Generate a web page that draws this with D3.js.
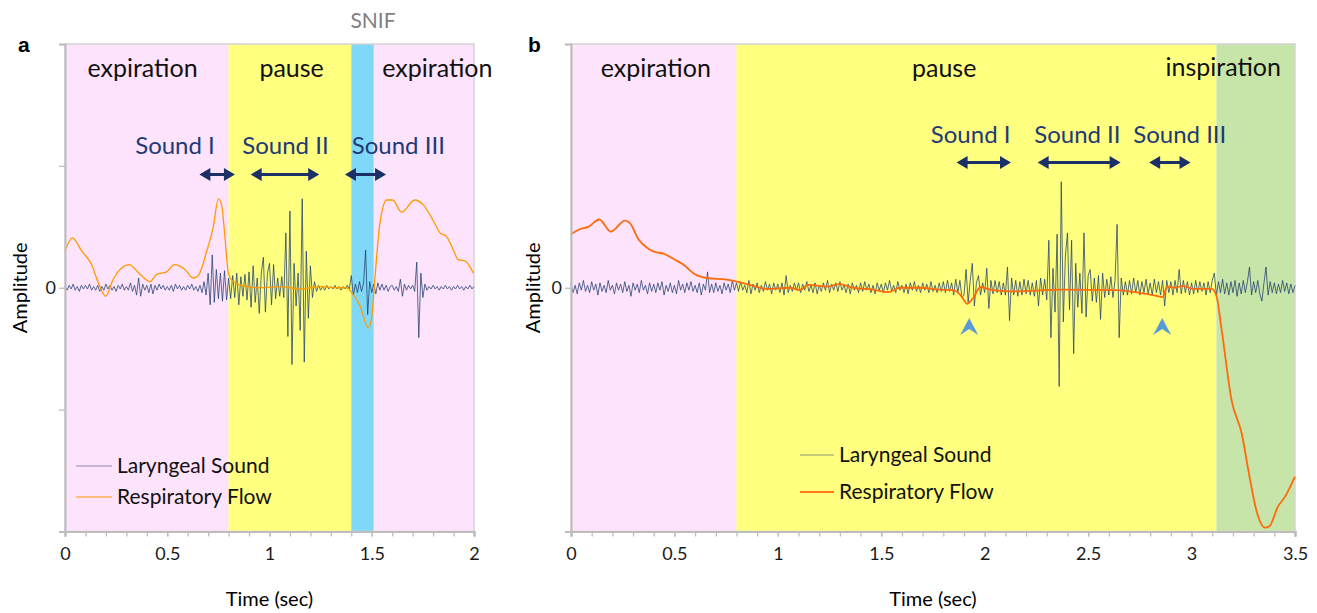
<!DOCTYPE html>
<html>
<head>
<meta charset="utf-8">
<script src="https://cdn.jsdelivr.net/npm/d3@7"></script>
<style>
    body { margin: 0; background: #fff; }
    text { font-family: Lato, "Open Sans", sans-serif; }
</style>
</head>
<body>
<svg id="chart" width="1317" height="613"></svg>
<script>
// ---------- panel a data ----------
let timeTicksA = [0, 0.5, 1, 1.5, 2]
let ampTicksA = [-200, -100, 0, 100, 200]
let phaseNamesA = ["expiration", "pause", "SNIF", "expiration"]
let phaseStartA = [0, 0.8, 1.4, 1.51]
let phaseEndA = [0.8, 1.4, 1.51, 2]
let soundNamesA = ["Sound I", "Sound II", "Sound III"]
let soundFromA = [0.657, 0.908, 1.369]
let soundToA = [0.831, 1.243, 1.570]

let flowTimeA = [0, 0.036, 0.082, 0.13, 0.163, 0.199, 0.236, 0.313, 0.367, 0.416, 0.448, 0.497,
    0.534, 0.587, 0.627, 0.652, 0.693, 0.725, 0.75, 0.766, 0.782, 0.799, 0.823, 0.889, 0.954,
    1.05, 1.15, 1.25, 1.33, 1.378, 1.402, 1.443, 1.483, 1.50, 1.516, 1.54, 1.573, 1.602, 1.646,
    1.711, 1.752, 1.801, 1.834, 1.866, 1.899, 1.923, 1.956, 1.997]
let flowA = [30, 41, 30, 19, 4, -7, 7, 19, 11, 5, 11, 13,
    19, 15, 8, 10, 30, 50, 73, 68, 42, 12, 5, 1, 0,
    1, -1, 1, 0, 0, -4, -15, -33, -24, 9, 53, 72, 72, 62,
    72, 68, 55, 45, 42, 31, 23, 22, 12]

// laryngeal sound, one sample every 0.01 s
let soundStepA = 0.01
let soundA = [
    1, -2, 2, -1, 3, -2, 1, -3, 2, -1,
    2, -1, 3, -2, 1, -2, 2, -3, 1, -2,
    3, -1, 2, -2, 1, -3, 2, -1, 3, -2,
    1, -2, 4, -3, 2, -6, 8, -7, 3, -2,
    2, -4, 3, -5, 2, -2, 3, -1, 2, -2,
    1, -2, 2, -3, 3, -1, 2, -2, 1, -2,
    2, -1, 3, -2, 1, -3, 2, -4, 5, -6,
    12, -14, 27, -12, 15, -9, 12, -11, 14, -10,
    8, -9, 10, -8, 12, -14, 9, -7, 11, -10,
    13, -16, 18, -12, 8, -21, 12, 25, -20, 12,
    20, -14, 19, -9, 8, -7, 9, -8, 45, -40,
    63, -63, 20, -15, 12, -35, 73, -61, 30, -25,
    18, -8, 5, -3, 2, -2, 1, -2, 2, -1,
    1, -1, 2, -1, 1, -2, 1, -1, 2, -1,
    10, -6, 3, -4, 5, -3, 4, 31, -22, 5,
    -4, 3, -5, 4, -2, 3, -2, 2, -3, 1,
    2, -2, 1, -3, 7, -7, 3, -2, 2, -1,
    2, -3, 21, -41, 12, -8, 3, -2, 1, -1,
    2, -1, 1, -2, 1, -1, 2, -1, 1, -2, 1, -1, 2, -1, 1, -2, 1, -1, 2, -1, 1]

// ---------- panel b data ----------
let timeTicksB = [0, 0.5, 1, 1.5, 2, 2.5, 3, 3.5]
let ampTicksB = [-100, 0, 100]
let phaseNamesB = ["expiration", "pause", "inspiration"]
let phaseStartB = [0, 0.8, 3.12]
let phaseEndB = [0.8, 3.12, 3.5]
let soundNamesB = ["Sound I", "Sound II", "Sound III"]
let soundFromB = [1.864, 2.256, 2.795]
let soundToB = [2.127, 2.657, 2.995]
let dipTimesB = [1.925, 2.858]

let flowTimeB = [0, 0.043, 0.084, 0.137, 0.192, 0.261, 0.285, 0.325, 0.374, 0.414, 0.446, 0.503,
    0.543, 0.599, 0.656, 0.752, 0.817, 0.881, 0.946, 1.058, 1.107, 1.147, 1.236, 1.30, 1.364,
    1.461, 1.534, 1.59, 1.687, 1.783, 1.848, 1.888, 1.915, 1.944, 1.98, 2.025, 2.122, 2.379,
    2.637, 2.734, 2.831, 2.86, 2.882, 2.919, 2.959, 3.008, 3.097, 3.121, 3.145, 3.193, 3.243,
    3.28, 3.317, 3.354, 3.378, 3.416, 3.452, 3.5]
let flowB = [22, 24, 25, 28, 23, 27.5, 26.5, 20, 16, 14.5, 14, 11.5,
    9.5, 5.5, 4, 3.3, 2.2, 0.8, -0.5, 0, -1, 1.2, 0.5, 1.5, 0,
    -0.8, -1.8, 0, 0, -0.8, -1, -3.5, -6.6, -4.2, 0.3, -0.8, -1.5, -0.8,
    -1, -1.9, -3.3, -3.8, 0.5, 0, 0.8, -0.5, -0.5, -3.6, -17, -46, -60,
    -77.5, -92.5, -98.4, -97.7, -90, -85.7, -77.5]

let soundStepB = 0.01
let soundB = [
    1.5, -2, 1, -2.5, 2, -1, 3, -1.5, 1, -2,
    2.5, -1, 1.5, -3, 2, -1.5, 1, -2, 3, -1,
    1, -2.5, 2, -1, 1.5, -2, 2.5, -1.5, 1, -3.5,
    2, -1, 1.5, -2, 3, -1, 1, -2.5, 2, -1.5,
    1.5, -2, 2, -1, 2.5, -3, 1, -1.5, 2, -2,
    1, -2.5, 3, -1, 1.5, -2, 2, -1, 2.5, -1.5,
    1, -2, 2, -3, 1.5, -1, 6.5, -2, 1.5, -2,
    2, -1.5, 1, -2.5, 2, -1, 1.5, -2, 3, -1,
    2, -1.5, 2.5, -1, 1, -2, 3, -2.5, 1.5, -1,
    2, -2, 1, -1.5, 2.5, -1, 1.5, -2.5, 2, -1,
    1.5, -2, 2, -3, 5, -2, 1, -1.5, 2, -1,
    2, -2, 1.5, -1, 2.5, -1.5, 1, -2, 2, -2.5,
    1, -1.5, 2, -1, 3, -2, 1.5, -1, 2, -1.5,
    2.5, -1, 1, -2, 1.5, -2.5, 2, -1, 1, -2,
    2, -1.5, 2.5, -1, 1.5, -2, 1, -2.5, 2, -1,
    1.5, -2, 2, -1, 3, -1.5, 1, -2, 2.5, -1,
    1, -2, 1.5, -2.5, 2, -1, 2.5, -1.5, 1, -2,
    2, -1, 1.5, -2, 2.5, -1.5, 1, -2, 2, -1.5,
    2.5, -2, 3, -1.5, 2, -3, 3.5, -2, 3, -4,
    -3, 7.5, -6, 3, 10, -7.5, 2, 5, -3, 2,
    -2, 8, -8.5, 3, -2.5, 3, -2, 2.5, -3, 2,
    -3, 8.5, -13.5, 4, -3, 3, -3.5, 2.5, -3, 3.5,
    -2.5, 3, -3, 2, -3.5, 3, -7.5, 4, -3, 3.5,
    -5, 19.5, -20.5, 8, -10, 22, -40.5, 43.5, -14, 13,
    22.5, -9, 19.5, -27, 10, -8, 6, -10.5, 22.5, -12,
    5, 7.5, -5.5, 4, -6, 5, -13, 6, -4, 3.5,
    -3, 4.5, -4, 3, 26, -20.5, 4, -3, 2.5, -3,
    3, -2.5, 4, -2, 3, -3, 2.5, -2, 3.5, -2.5,
    2, -3, 3.5, -2, 2.5, -3, 3, -7.5, 3, -2,
    2.5, -3, 3, -2, 7.5, -2.5, 3, -2, 2.5, -3,
    2, -2.5, 3, -2, 2.5, -1.5, 2, -3, 2.5, -2,
    3, 6, -3, 2.5, -2, 3.5, -2.5, 2, -3, 2.5,
    -2, 3, -3.5, 2, -2.5, 3, -2, 2.5, 8.5, -3,
    2.5, -2, 3, -2.5, -5.5, 2, 8.5, -3, 2.5, -2,
    2, -2.5, 1.5, -2, 3, -1.5, 2, -2.5, 1.5, -2, 1]

let seriesNames = ["Laryngeal Sound", "Respiratory Flow"]

// ---------- drawing ----------
let svg = d3.select("#chart")

let phaseColors = {
    "expiration": "#fde3fc",
    "pause": "#ffff80",
    "SNIF": "#80d8f8",
    "inspiration": "#c8e5a9"
}
let navy = "#1c3068"

function drawPanel(config) {
    let x = d3.scaleLinear().domain([0, config.xMax]).range([config.left, config.right])
    let y = d3.scaleLinear().domain([-config.yMax, config.yMax]).range([531.5, 44])
    let g = svg.append("g")

    let phases = config.phaseNames.map(function (n, i) {
        return { name: n, from: config.phaseStart[i], to: config.phaseEnd[i] }
    })

    // background bands
    g.selectAll("rect.phase")
        .data(phases)
        .enter().append("rect")
        .attr("x", d => x(d.from))
        .attr("width", d => x(d.to) - x(d.from))
        .attr("y", y(config.yMax))
        .attr("height", y(-config.yMax) - y(config.yMax))
        .attr("fill", d => phaseColors[d.name])

    // plot frame
    g.append("rect")
        .attr("x", x(0)).attr("y", y(config.yMax))
        .attr("width", x(config.xMax) - x(0))
        .attr("height", y(-config.yMax) - y(config.yMax))
        .attr("fill", "none")
        .attr("stroke", "#d4d4d4")
        .attr("stroke-width", 1.5)

    // laryngeal sound
    let soundLine = d3.line()
        .x((d, i) => x(i * config.soundStep))
        .y(d => y(d))
    g.append("path")
        .datum(config.sound)
        .attr("d", soundLine)
        .attr("fill", "none")
        .attr("stroke", "#1f3d6e")
        .attr("stroke-opacity", 0.75)
        .attr("stroke-width", 1)

    // respiratory flow
    let flowLine = d3.line()
        .curve(d3.curveMonotoneX)
        .x((d, i) => x(config.flowTime[i]))
        .y(d => y(d))
    g.append("path")
        .datum(config.flow)
        .attr("d", flowLine)
        .attr("fill", "none")
        .attr("stroke", config.flowColor)
        .attr("stroke-width", config.flowWidth)

    // axes
    let minor = d3.range(0, config.xMax + 0.001, 0.1)
    let xMinor = g.append("g")
        .attr("transform", "translate(0," + y(-config.yMax) + ")")
        .call(d3.axisBottom(x).tickValues(minor).tickSize(5).tickFormat(""))
    let xMajor = g.append("g")
        .attr("transform", "translate(0," + y(-config.yMax) + ")")
        .call(d3.axisBottom(x).tickValues(config.timeTicks).tickSize(5).tickPadding(11).tickFormat(d3.format("")))
    let yAxis = g.append("g")
        .attr("transform", "translate(" + x(0) + ",0)")
        .call(d3.axisLeft(y).tickValues(config.ampTicks).tickSize(6).tickPadding(3)
            .tickFormat(d => d === 0 ? "0" : ""))
    ;[xMinor, xMajor, yAxis].forEach(function (a) {
        a.selectAll("path").attr("stroke", "#bdbdbd").attr("stroke-width", 2)
        a.selectAll("line").attr("stroke", "#bdbdbd").attr("stroke-width", 1.3)
        a.selectAll("text").attr("fill", "#1a1a1a").style("font-size", "18px")
            .style("font-family", "Lato, sans-serif")
    })

    // axis titles
    g.append("text")
        .attr("x", (x(0) + x(config.xMax)) / 2).attr("y", 606)
        .attr("text-anchor", "middle")
        .style("font-size", "20px")
        .text("Time (sec)")
    g.append("text")
        .attr("transform", "translate(" + config.yTitleX + "," + y(0) + ") rotate(-90)")
        .attr("text-anchor", "middle")
        .attr("dy", "0.35em")
        .style("font-size", "20px")
        .text("Amplitude")

    // panel letter
    g.append("text")
        .attr("x", config.letterX).attr("y", 52)
        .style("font-family", "Liberation Sans, Arial, sans-serif")
        .style("font-weight", "bold")
        .style("font-size", "21px")
        .text(config.letter)

    // phase labels
    phases.forEach(function (p, i) {
        let lab = config.phaseLabels[i]
        g.append("text")
            .attr("x", x(lab.at)).attr("y", lab.y)
            .attr("text-anchor", "middle")
            .attr("fill", lab.color || "#111")
            .style("font-size", lab.size + "px")
            .text(p.name)
    })

    // sound labels and double arrows
    config.soundNames.forEach(function (name, i) {
        g.append("text")
            .attr("x", x(config.soundLabelAt[i])).attr("y", config.soundLabelY)
            .attr("text-anchor", "middle")
            .attr("fill", "#1f3a75")
            .style("font-size", "24px")
            .text(name)
        let x1 = x(config.soundFrom[i]), x2 = x(config.soundTo[i]), ay = config.arrowY
        g.append("line")
            .attr("x1", x1 + 8).attr("x2", x2 - 8)
            .attr("y1", ay).attr("y2", ay)
            .attr("stroke", navy).attr("stroke-width", 3)
        g.append("path")
            .attr("d", "M" + x1 + "," + ay + "l11,-6.5v13z M" + x2 + "," + ay + "l-11,-6.5v13z")
            .attr("fill", navy)
    })

    // dip markers
    ;(config.dips || []).forEach(function (t) {
        let cx = x(t), ty = 318
        g.append("path")
            .attr("d", "M" + cx + "," + ty + "l9,17l-9,-6l-9,6z")
            .attr("fill", "#5b9bd5")
    })

    // legend
    seriesNames.forEach(function (name, i) {
        let ly = config.legendY[i]
        g.append("line")
            .attr("x1", config.legendX).attr("x2", config.legendX + config.legendSwatch)
            .attr("y1", ly).attr("y2", ly)
            .attr("stroke", i === 0 ? navy : config.flowColor)
            .attr("stroke-opacity", i === 0 ? 0.25 : config.legendFlowOpacity)
            .attr("stroke-width", 2)
        g.append("text")
            .attr("x", config.legendX + config.legendSwatch + 5).attr("y", ly)
            .attr("dy", "0.35em")
            .attr("fill", "#111")
            .style("font-size", "21px")
            .text(name)
    })
}

drawPanel({
    letter: "a", letterX: 18, yTitleX: 20,
    left: 65, right: 474, xMax: 2, yMax: 200,
    timeTicks: timeTicksA, ampTicks: ampTicksA,
    phaseNames: phaseNamesA, phaseStart: phaseStartA, phaseEnd: phaseEndA,
    phaseLabels: [
        { at: 0.379, y: 77, size: 25 },
        { at: 1.108, y: 77, size: 25 },
        { at: 1.506, y: 28, size: 21, color: "#7f7f7f" },
        { at: 1.821, y: 77, size: 25 }
    ],
    soundNames: soundNamesA, soundFrom: soundFromA, soundTo: soundToA,
    soundLabelAt: [0.538, 1.078, 1.63], soundLabelY: 154, arrowY: 174.5,
    flowTime: flowTimeA, flow: flowA, flowColor: "#ff9a00", flowWidth: 1.3,
    sound: soundA, soundStep: soundStepA,
    legendX: 76, legendSwatch: 36, legendY: [466, 497], legendFlowOpacity: 0.5
})

drawPanel({
    letter: "b", letterX: 528, yTitleX: 533,
    left: 571, right: 1295, xMax: 3.5, yMax: 100,
    timeTicks: timeTicksB, ampTicks: ampTicksB,
    phaseNames: phaseNamesB, phaseStart: phaseStartB, phaseEnd: phaseEndB,
    phaseLabels: [
        { at: 0.41, y: 77, size: 25 },
        { at: 1.804, y: 77, size: 25 },
        { at: 3.153, y: 76, size: 25 }
    ],
    soundNames: soundNamesB, soundFrom: soundFromB, soundTo: soundToB,
    soundLabelAt: [1.932, 2.448, 2.943], soundLabelY: 143, arrowY: 162.5,
    dips: dipTimesB,
    flowTime: flowTimeB, flow: flowB, flowColor: "#ff6a0d", flowWidth: 1.8,
    sound: soundB, soundStep: soundStepB,
    legendX: 800, legendSwatch: 34, legendY: [455, 492], legendFlowOpacity: 0.9
})
</script>
</body>
</html>
